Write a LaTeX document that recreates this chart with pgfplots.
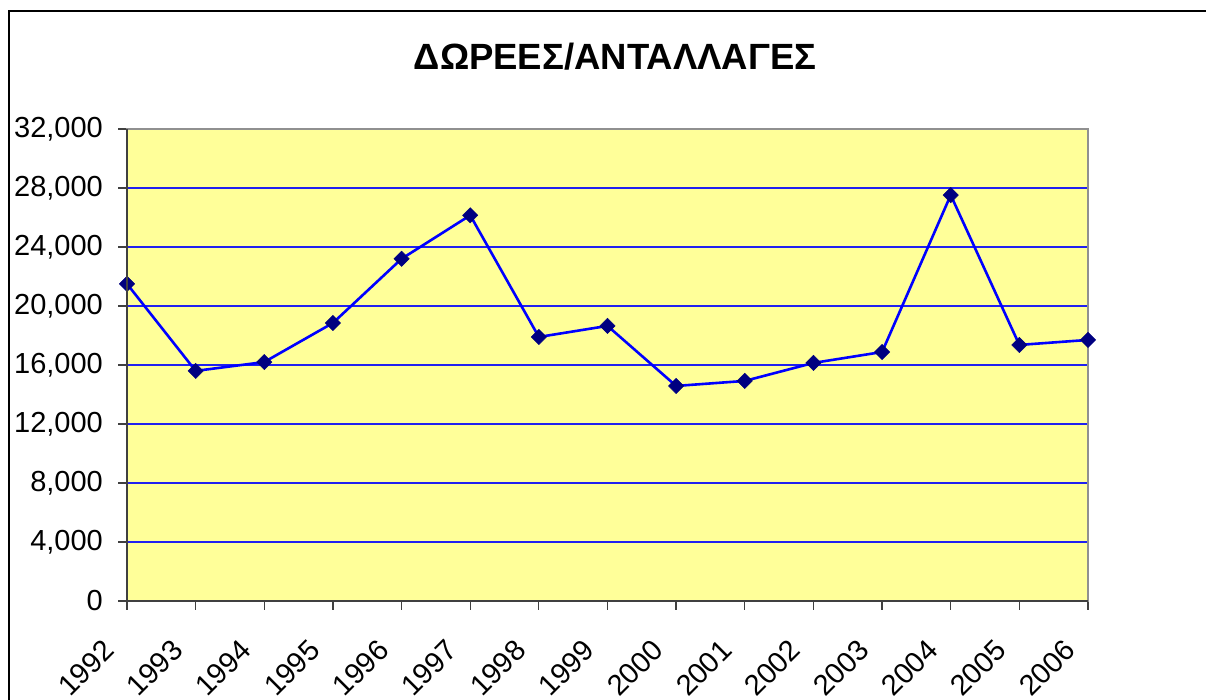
\documentclass[border=0pt]{standalone}
\usepackage{fontspec}
\setmainfont{Liberation Sans}
\usepackage{pgfplots}
\pgfplotsset{compat=1.18}
\definecolor{plotyellow}{HTML}{FFFF99}
\definecolor{gridblue}{HTML}{2020F0}
\definecolor{lineblue}{HTML}{0000FF}
\definecolor{marknavy}{HTML}{000080}
\definecolor{darkax}{HTML}{404040}
\definecolor{lightax}{HTML}{909090}
\begin{document}
\begin{tikzpicture}
\useasboundingbox (0pt,0pt) rectangle (1206pt,700pt);
\fill[white] (0pt,0pt) rectangle (1206pt,700pt);
\draw[black, line width=2pt] (9pt,-5pt) -- (9pt,689pt) -- (1215pt,689pt);
\node[font=\fontsize{36.5}{42}\selectfont\bfseries] at (615pt,643pt) {ΔΩΡΕΕΣ/ΑΝΤΑΛΛΑΓΕΣ};
\begin{axis}[
  at={(127pt,99pt)}, anchor=south west,
  scale only axis, width=961pt, height=472pt,
  xmin=1992, xmax=2006, ymin=0, ymax=32000,
  xtick={1992,...,2006},
  xticklabels={1992,1993,1994,1995,1996,1997,1998,1999,2000,2001,2002,2003,2004,2005,2006},
  ytick={0,4000,...,32000},
  scaled ticks=false,
  /pgf/number format/.cd, 1000 sep={,}, assume math mode=true, /pgfplots/.cd,
  tick label style={font=\fontsize{29}{33}\selectfont, inner sep=0pt},
  yticklabel style={anchor=east, xshift=-15pt},
  xticklabel style={xshift=-18pt, yshift=-35pt, rotate=45, anchor=east},
  tick align=outside, xtick pos=bottom, ytick pos=left,
  major tick length=9pt,
  tick style={darkax, line width=1.3pt},
  ymajorgrids, major grid style={gridblue, line width=1.1pt},
  axis background/.style={fill=plotyellow},
  axis line style={lightax, line width=2pt},
  after end axis/.code={\draw[darkax, line width=2pt] (rel axis cs:0,1) -- (rel axis cs:0,0) -- (rel axis cs:1,0);},
  clip=false,
]
\addplot[lineblue, line width=2.6pt, mark=square*, mark size=5.4pt,
  mark options={rotate=45, fill=marknavy, draw=marknavy, line width=0.5pt}]
coordinates {
(1992,21500) (1993,15600) (1994,16200) (1995,18850) (1996,23200)
(1997,26150) (1998,17900) (1999,18650) (2000,14580) (2001,14920)
(2002,16140) (2003,16880) (2004,27520) (2005,17360) (2006,17700)
};
\end{axis}
\end{tikzpicture}
\end{document}
